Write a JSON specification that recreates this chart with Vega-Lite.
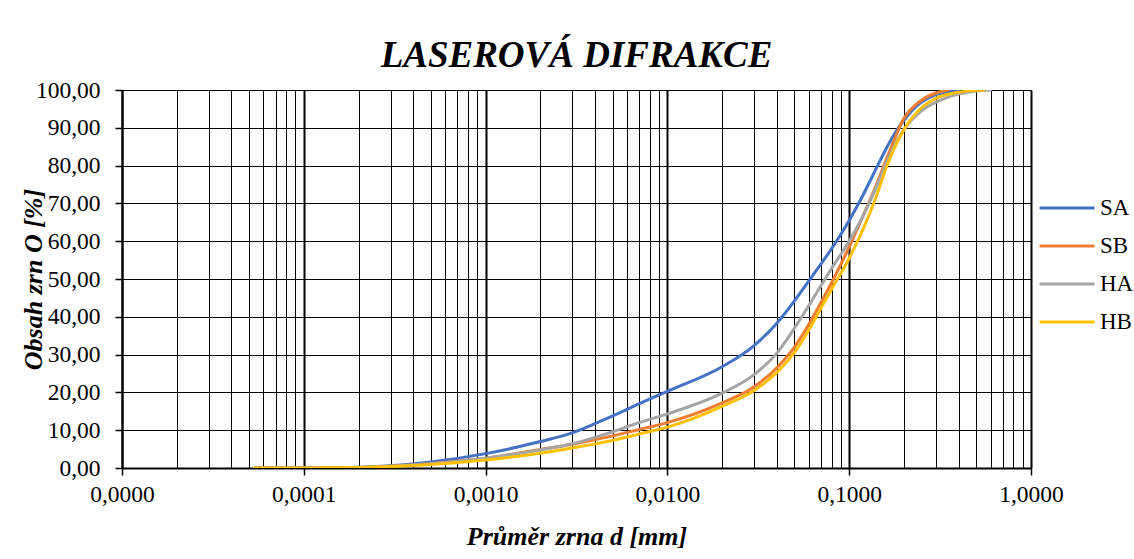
{
  "$schema": "https://vega.github.io/schema/vega-lite/v6.json",
  "width": 909,
  "height": 378,
  "autosize": {"type": "none"},
  "padding": {"left": 122, "top": 90, "right": 103, "bottom": 91},
  "background": "white",
  "title": {
    "text": "LASEROVÁ DIFRAKCE",
    "font": "Liberation Serif",
    "fontSize": 37,
    "fontStyle": "italic",
    "fontWeight": "bold",
    "color": "black",
    "anchor": "middle",
    "baseline": "alphabetic",
    "offset": -26
  },
  "data": {
    "values": [
      {"s": "SA", "d": 0.0000537, "O": 0},
      {"s": "SA", "d": 0.0001, "O": 0.05},
      {"s": "SA", "d": 0.0002, "O": 0.2},
      {"s": "SA", "d": 0.0003, "O": 0.6},
      {"s": "SA", "d": 0.0005, "O": 1.6},
      {"s": "SA", "d": 0.001, "O": 3.8},
      {"s": "SA", "d": 0.002, "O": 7.0},
      {"s": "SA", "d": 0.003, "O": 9.3},
      {"s": "SA", "d": 0.005, "O": 13.8},
      {"s": "SA", "d": 0.007, "O": 17.0},
      {"s": "SA", "d": 0.01, "O": 20.3},
      {"s": "SA", "d": 0.02, "O": 26.8},
      {"s": "SA", "d": 0.03, "O": 32.4},
      {"s": "SA", "d": 0.04, "O": 38.3},
      {"s": "SA", "d": 0.05, "O": 44.2},
      {"s": "SA", "d": 0.06, "O": 49.5},
      {"s": "SA", "d": 0.07, "O": 54.0},
      {"s": "SA", "d": 0.08, "O": 58.0},
      {"s": "SA", "d": 0.1, "O": 65.5},
      {"s": "SA", "d": 0.12, "O": 72.5},
      {"s": "SA", "d": 0.14, "O": 79.0},
      {"s": "SA", "d": 0.166, "O": 86.0},
      {"s": "SA", "d": 0.2, "O": 92.0},
      {"s": "SA", "d": 0.25, "O": 96.8},
      {"s": "SA", "d": 0.3, "O": 98.8},
      {"s": "SA", "d": 0.35, "O": 99.6},
      {"s": "SA", "d": 0.4, "O": 100},

      {"s": "SB", "d": 0.0000537, "O": 0},
      {"s": "SB", "d": 0.0001, "O": 0.03},
      {"s": "SB", "d": 0.0002, "O": 0.15},
      {"s": "SB", "d": 0.0003, "O": 0.45},
      {"s": "SB", "d": 0.0005, "O": 1.2},
      {"s": "SB", "d": 0.001, "O": 2.6},
      {"s": "SB", "d": 0.002, "O": 4.9},
      {"s": "SB", "d": 0.003, "O": 6.3},
      {"s": "SB", "d": 0.005, "O": 8.5},
      {"s": "SB", "d": 0.007, "O": 10.2},
      {"s": "SB", "d": 0.01, "O": 12.0},
      {"s": "SB", "d": 0.02, "O": 17.2},
      {"s": "SB", "d": 0.03, "O": 21.5},
      {"s": "SB", "d": 0.04, "O": 26.5},
      {"s": "SB", "d": 0.05, "O": 32.0},
      {"s": "SB", "d": 0.06, "O": 38.0},
      {"s": "SB", "d": 0.07, "O": 43.8},
      {"s": "SB", "d": 0.08, "O": 49.0},
      {"s": "SB", "d": 0.1, "O": 58.5},
      {"s": "SB", "d": 0.12, "O": 67.0},
      {"s": "SB", "d": 0.14, "O": 74.5},
      {"s": "SB", "d": 0.166, "O": 83.5},
      {"s": "SB", "d": 0.2, "O": 92.5},
      {"s": "SB", "d": 0.25, "O": 97.3},
      {"s": "SB", "d": 0.3, "O": 99.2},
      {"s": "SB", "d": 0.35, "O": 100},

      {"s": "HA", "d": 0.0000537, "O": 0},
      {"s": "HA", "d": 0.0001, "O": 0.03},
      {"s": "HA", "d": 0.0002, "O": 0.15},
      {"s": "HA", "d": 0.0003, "O": 0.45},
      {"s": "HA", "d": 0.0005, "O": 1.1},
      {"s": "HA", "d": 0.001, "O": 2.6},
      {"s": "HA", "d": 0.002, "O": 4.8},
      {"s": "HA", "d": 0.003, "O": 6.4},
      {"s": "HA", "d": 0.005, "O": 9.6},
      {"s": "HA", "d": 0.007, "O": 12.0},
      {"s": "HA", "d": 0.01, "O": 14.3},
      {"s": "HA", "d": 0.02, "O": 19.8},
      {"s": "HA", "d": 0.03, "O": 24.7},
      {"s": "HA", "d": 0.04, "O": 30.4},
      {"s": "HA", "d": 0.05, "O": 37.0},
      {"s": "HA", "d": 0.06, "O": 43.0},
      {"s": "HA", "d": 0.07, "O": 48.3},
      {"s": "HA", "d": 0.08, "O": 52.8},
      {"s": "HA", "d": 0.1, "O": 60.0},
      {"s": "HA", "d": 0.12, "O": 67.0},
      {"s": "HA", "d": 0.14, "O": 74.0},
      {"s": "HA", "d": 0.166, "O": 82.5},
      {"s": "HA", "d": 0.2, "O": 89.5},
      {"s": "HA", "d": 0.25, "O": 94.5},
      {"s": "HA", "d": 0.3, "O": 96.8},
      {"s": "HA", "d": 0.4, "O": 98.9},
      {"s": "HA", "d": 0.5, "O": 99.7},
      {"s": "HA", "d": 0.6, "O": 100},

      {"s": "HB", "d": 0.0000537, "O": 0},
      {"s": "HB", "d": 0.0001, "O": 0.02},
      {"s": "HB", "d": 0.0002, "O": 0.12},
      {"s": "HB", "d": 0.0003, "O": 0.4},
      {"s": "HB", "d": 0.0005, "O": 0.9},
      {"s": "HB", "d": 0.001, "O": 2.1},
      {"s": "HB", "d": 0.002, "O": 3.9},
      {"s": "HB", "d": 0.003, "O": 5.3},
      {"s": "HB", "d": 0.005, "O": 7.3},
      {"s": "HB", "d": 0.007, "O": 9.0},
      {"s": "HB", "d": 0.01, "O": 10.8},
      {"s": "HB", "d": 0.02, "O": 16.3},
      {"s": "HB", "d": 0.03, "O": 20.5},
      {"s": "HB", "d": 0.04, "O": 25.3},
      {"s": "HB", "d": 0.05, "O": 30.6},
      {"s": "HB", "d": 0.06, "O": 36.5},
      {"s": "HB", "d": 0.07, "O": 42.3},
      {"s": "HB", "d": 0.08, "O": 47.3},
      {"s": "HB", "d": 0.1, "O": 55.5},
      {"s": "HB", "d": 0.12, "O": 63.5},
      {"s": "HB", "d": 0.14, "O": 71.5},
      {"s": "HB", "d": 0.166, "O": 81.5},
      {"s": "HB", "d": 0.2, "O": 89.5},
      {"s": "HB", "d": 0.25, "O": 95.3},
      {"s": "HB", "d": 0.3, "O": 97.8},
      {"s": "HB", "d": 0.4, "O": 99.4},
      {"s": "HB", "d": 0.5, "O": 99.9},
      {"s": "HB", "d": 0.55, "O": 100}
    ]
  },
  "mark": {"type": "line", "strokeWidth": 3, "strokeCap": "round", "interpolate": "monotone", "clip": true},
  "encoding": {
    "x": {
      "field": "d",
      "type": "quantitative",
      "scale": {"type": "log", "domain": [0.00001, 1], "nice": false},
      "axis": {
        "title": "Průměr zrna d [mm]",
        "values": [1e-5, 2e-5, 3e-5, 4e-5, 5e-5, 6e-5, 7e-5, 8e-5, 9e-5,
                   0.0001, 0.0002, 0.0003, 0.0004, 0.0005, 0.0006, 0.0007, 0.0008, 0.0009,
                   0.001, 0.002, 0.003, 0.004, 0.005, 0.006, 0.007, 0.008, 0.009,
                   0.01, 0.02, 0.03, 0.04, 0.05, 0.06, 0.07, 0.08, 0.09,
                   0.1, 0.2, 0.3, 0.4, 0.5, 0.6, 0.7, 0.8, 0.9, 1],
        "labelExpr": "abs(log(datum.value) / LN10 - round(log(datum.value) / LN10)) < 0.001 ? replace(format(datum.value, '.4f'), '.', ',') : ''",
        "labelFont": "Liberation Serif",
        "labelFontSize": 23.5,
        "labelColor": "black",
        "labelPadding": 7,
        "labelOverlap": false,
        "labelFlush": false,
        "tickColor": "black",
        "tickSize": 7,
        "tickWidth": 1.5,
        "tickOpacity": {"condition": {"test": "abs(log(datum.value) / LN10 - round(log(datum.value) / LN10)) < 0.001", "value": 1}, "value": 0},
        "domainColor": "black",
        "domainWidth": 2,
        "grid": true,
        "gridColor": "black",
        "gridOpacity": 1,
        "gridWidth": {"condition": {"test": "abs(log(datum.value) / LN10 - round(log(datum.value) / LN10)) < 0.001", "value": 2}, "value": 1},
        "titleFont": "Liberation Serif",
        "titleFontSize": 26,
        "titleFontWeight": "bold",
        "titleFontStyle": "italic",
        "titleColor": "black",
        "titleBaseline": "alphabetic",
        "titleY": 76
      }
    },
    "y": {
      "field": "O",
      "type": "quantitative",
      "scale": {"domain": [0, 100], "nice": false},
      "axis": {
        "title": "Obsah zrn O [%]",
        "values": [0, 10, 20, 30, 40, 50, 60, 70, 80, 90, 100],
        "labelExpr": "replace(format(datum.value, '.2f'), '.', ',')",
        "labelFont": "Liberation Serif",
        "labelFontSize": 23.5,
        "labelColor": "black",
        "labelPadding": 15,
        "tickColor": "black",
        "tickSize": 7,
        "tickWidth": 1.5,
        "domainColor": "black",
        "domainWidth": 2,
        "grid": true,
        "gridColor": "black",
        "gridOpacity": 1,
        "gridWidth": 1,
        "titleFont": "Liberation Serif",
        "titleFontSize": 26,
        "titleFontWeight": "bold",
        "titleFontStyle": "italic",
        "titleColor": "black",
        "titleAngle": -90,
        "titleAlign": "center",
        "titleBaseline": "middle",
        "titleX": -89,
        "titleY": 189
      }
    },
    "color": {
      "field": "s",
      "type": "nominal",
      "scale": {"domain": ["SA", "SB", "HA", "HB"], "range": ["#4472C4", "#ED7D31", "#A5A5A5", "#FFC000"]},
      "legend": {
        "title": null,
        "orient": "none",
        "legendX": 916,
        "legendY": 99,
        "padding": 0,
        "gridAlign": "all",
        "symbolType": "stroke",
        "symbolSize": 3025,
        "symbolStrokeWidth": 3,
        "clipHeight": 38,
        "labelFont": "Liberation Serif",
        "labelFontSize": 23,
        "labelColor": "black",
        "labelOffset": 4,
        "rowPadding": 0
      }
    }
  },
  "config": {
    "view": {"stroke": "black", "strokeWidth": 1}
  }
}
